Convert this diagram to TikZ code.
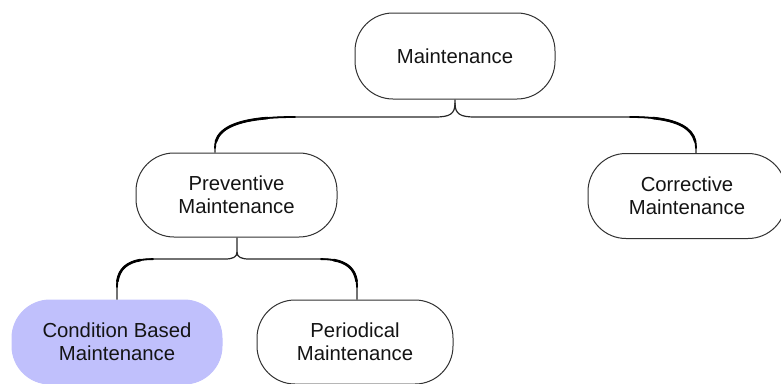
\documentclass[tikz,border=0pt]{standalone}
\usepackage{fontspec}
\setmainfont{Liberation Sans}
\definecolor{cbmfill}{RGB}{192,192,252}
\definecolor{edgegray}{RGB}{50,50,50}
\definecolor{txt}{RGB}{20,20,20}
\newcommand\bcorner[3]{%
  \begin{scope}[shift={#1},xscale=#2,yscale=#3]
    \draw[bendpart] (80,-31) .. controls (30,-31) and (0,-23) .. (0,0);
    \draw[bendcore] (52.48,-29.98) .. controls (23.36,-27.55) and (5.02,-20.51) .. (0.9,-6.4);
  \end{scope}}
\begin{document}
\begin{tikzpicture}[x=1pt,y=-1pt,
  box/.style={draw=edgegray,line width=1pt,rounded corners=38pt,fill=white,
    align=center,font=\fontsize{20.3}{23}\selectfont,text=txt,inner sep=0pt},
  conn/.style={draw=black!85,line width=1.2pt},
  bendpart/.style={draw=black,line width=1.8pt,line cap=round},
  bendcore/.style={draw=black,line width=2.6pt,line cap=round}]
\useasboundingbox (0,0) rectangle (781,383);
\node[box,minimum width=200pt,minimum height=86pt] (m) at (455,56) {Maintenance};
\node[box,minimum width=201pt,minimum height=84pt] (p) at (236.5,195) {Preventive\\Maintenance};
\node[box,minimum width=198pt,minimum height=85pt] (c) at (687,196) {Corrective\\Maintenance};
\node[box,fill=cbmfill,draw=cbmfill,minimum width=210pt,minimum height=84pt] (cbm) at (117,342) {Condition Based\\Maintenance};
\node[box,minimum width=196pt,minimum height=84pt] (per) at (355,342) {Periodical\\Maintenance};
% top bracket
\coordinate (mj) at (455,103);
\draw[conn] (m.south) -- (mj) .. controls (455,114) and (450,117) .. (435,117) -- (295,117)
  .. controls (245,117) and (215,125) .. (215,148) -- (215,0 |- p.north);
\draw[conn] (mj) .. controls (455,114) and (460,117) .. (475,117) -- (630,117)
  .. controls (671.25,117) and (696,125) .. (696,148) -- (696,0 |- c.north);
\bcorner{(215,148)}{1}{1}
\bcorner{(696,148)}{-0.825}{1}
% lower bracket
\coordinate (pj) at (237,252);
\draw[conn] (237,0 |- p.south) -- (pj) .. controls (237,257) and (233,259) .. (225,259) -- (153,259)
  .. controls (130.5,259) and (117,266.3) .. (117,287) -- (117,0 |- cbm.north);
\draw[conn] (pj) .. controls (237,257) and (241,259) .. (249,259) -- (321,259)
  .. controls (343.5,259) and (357,266.3) .. (357,287) -- (357,0 |- per.north);
\bcorner{(117,287)}{0.45}{0.9}
\bcorner{(357,287)}{-0.45}{0.9}
\end{tikzpicture}
\end{document}
